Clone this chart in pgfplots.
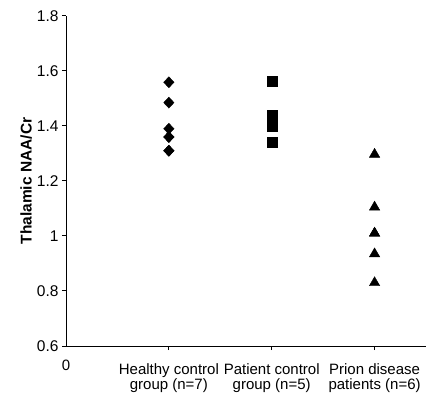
\documentclass[border=0pt]{standalone}
\usepackage{fontspec}
\setmainfont{Liberation Sans}
\usepackage{pgfplots}
\pgfplotsset{compat=1.18}
\usetikzlibrary{calc}
\begin{document}
\begin{tikzpicture}
\begin{axis}[
  scale only axis, width=360pt, height=330pt,
  xmin=0, xmax=3.5, ymin=0.6, ymax=1.8,
  axis lines*=left,
  axis line style={line width=1pt},
  tick align=outside,
  major tick length=4pt,
  tick style={black, line width=1pt},
  ytick={0.6,0.8,1,1.2,1.4,1.6,1.8},
  xtick={1,2,3},
  xticklabels={{Healthy control\\group (n=7)},{Patient control\\group (n=5)},{Prion disease\\patients (n=6)}},
  extra x ticks={0},
  extra x tick labels={0},
  extra x tick style={major tick length=0pt},
  xticklabel style={align=center, font=\fontsize{15}{15.5}\selectfont, anchor=north, yshift=-10pt},
  yticklabel style={font=\fontsize{15.5}{16}\selectfont},
  /pgf/number format/assume math mode=true,
  ylabel={Thalamic NAA/Cr},
  ylabel style={font=\bfseries\fontsize{15.5}{16}\selectfont, at={(axis description cs:-0.111,0.5)}, anchor=center},
  clip=false,
]
\addplot[only marks, mark=diamond*, mark size=5.5pt, mark options={xscale=1.25}, black] coordinates {
  (1,1.559) (1,1.485) (1,1.39) (1,1.36) (1,1.36) (1,1.31) (1,1.31)};
\addplot[only marks, mark=square*, mark size=5pt, black] coordinates {
  (2,1.562) (2,1.44) (2,1.42) (2,1.40) (2,1.342)};
\addplot[only marks, mark=triangle*, mark size=6pt, black] coordinates {
  (3,1.297) (3,1.105) (3,1.01) (3,1.01) (3,0.935) (3,0.83)};
\coordinate (bl) at (rel axis cs:0,0);
\coordinate (tr) at (rel axis cs:1,1);
\end{axis}
\pgfresetboundingbox
\path[use as bounding box] ($(bl)+(-66pt,-49pt)$) rectangle ($(tr)+(17pt,16pt)$);
\end{tikzpicture}
\end{document}
